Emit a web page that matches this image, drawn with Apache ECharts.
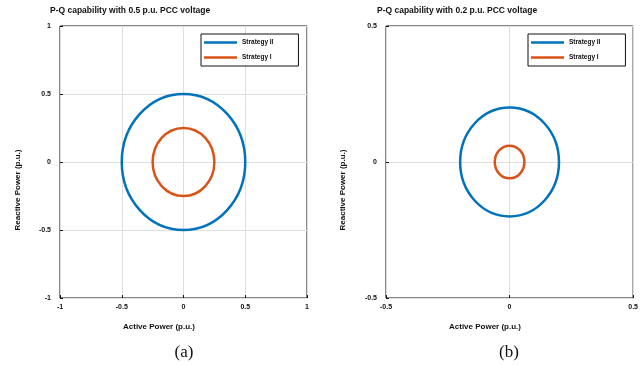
<!DOCTYPE html>
<html>
<head>
<meta charset="utf-8">
<script src="https://cdn.jsdelivr.net/npm/echarts@6/dist/echarts.min.js"></script>
<style>html,body{margin:0;padding:0;background:#fff}#c{width:641px;height:365px}</style>
</head>
<body>
<div id="c"></div>
<script>
// ---- data ----
const panelTitles = ['P-Q capability with 0.5 p.u. PCC voltage', 'P-Q capability with 0.2 p.u. PCC voltage'];
const panelCaptions = ['(a)', '(b)'];
const seriesNames = ['Strategy II', 'Strategy I'];
const seriesColors = ['#0072BD', '#D95319'];
const xAxisName = 'Active Power (p.u.)';
const yAxisName = 'Reactive Power (p.u.)';
// capability circles: [centre P, centre Q, radius] for Strategy II, Strategy I
const circlesA = [[0, 0, 0.5], [0, 0, 0.25]];
const circlesB = [[0, 0, 0.2], [0, 0, 0.06]];
const axisRangeA = [-1, 1, 0.5];
const axisRangeB = [-0.5, 0.5, 0.5];

const chart = echarts.init(document.getElementById('c'), null, {renderer: 'canvas'});

const grids = [
  {left: 60, top: 26, width: 247, height: 272},
  {left: 386, top: 26, width: 248, height: 272}
];
const ranges = [axisRangeA, axisRangeB];
const tickFont = {fontSize: 7, fontWeight: 'bold', color: '#111', fontFamily: 'Liberation Sans, Arial, sans-serif'};

function makeX(i) {
  const r = ranges[i];
  return {type: 'value', gridIndex: i, min: r[0], max: r[1], interval: r[2],
    axisLine: {show: false, onZero: false}, axisTick: {show: true, inside: true, length: 3, lineStyle: {color: '#111'}},
    splitLine: {show: true, lineStyle: {color: '#dedede', width: 1}},
    axisLabel: Object.assign({margin: 6}, tickFont)};
}
function makeY(i) {
  const r = ranges[i];
  return {type: 'value', gridIndex: i, min: r[0], max: r[1], interval: r[2],
    axisLine: {show: false, onZero: false}, axisTick: {show: true, inside: true, length: 3, lineStyle: {color: '#111'}},
    splitLine: {show: true, lineStyle: {color: '#dedede', width: 1}},
    axisLabel: Object.assign({margin: 9, padding: [0, 0, 7, 0]}, tickFont)};
}

function circleSeries(name, color, circle, gi) {
  return {
    type: 'custom', name: name, xAxisIndex: gi, yAxisIndex: gi,
    itemStyle: {color: color},
    data: [circle],
    renderItem: function (params, api) {
      const c = api.coord([api.value(0), api.value(1)]);
      const s = api.size([api.value(2), api.value(2)]);
      return {type: 'ellipse', shape: {cx: c[0], cy: c[1], rx: s[0], ry: s[1]},
        style: {fill: null, stroke: color, lineWidth: 2.5}};
    }
  };
}

const series = [];
[circlesA, circlesB].forEach(function (cs, gi) {
  cs.forEach(function (c, k) { series.push(circleSeries(seriesNames[k], seriesColors[k], c, gi)); });
});

function makeLegend(left) {
  return {left: left, top: 34, orient: 'vertical', padding: [5, 25, 5, 3], itemGap: 8,
    itemWidth: 33, itemHeight: 2.5, icon: 'rect', borderColor: '#111', borderWidth: 1,
    backgroundColor: '#fff', selectedMode: false,
    textStyle: {fontSize: 6.5, fontWeight: 'bold', color: '#111', fontFamily: 'Liberation Sans, Arial, sans-serif', padding: [0, 0, 0, 0]},
    data: seriesNames.map(function (n, k) { return {name: n, itemStyle: {color: seriesColors[k]}}; })};
}

const labFont = 'bold 8px "Liberation Sans", Arial, sans-serif';
const capFont = '17px "Liberation Serif", "Times New Roman", serif';
function txt(x, y, text, font, rot) {
  return {type: 'text', x: x, y: y, rotation: rot || 0, silent: true,
    style: {text: text, font: font, fill: '#111', align: 'center', verticalAlign: 'middle'}};
}

const titleStyle = {fontSize: 8.5, fontWeight: 'bold', color: '#111', fontFamily: 'Liberation Sans, Arial, sans-serif'};
chart.setOption({
  animation: false,
  backgroundColor: '#fff',
  title: [
    {text: panelTitles[0], left: 50, top: 6, padding: 0, textStyle: titleStyle},
    {text: panelTitles[1], left: 377, top: 6, padding: 0, textStyle: titleStyle}
  ],
  grid: grids.map(function (g) { return Object.assign({show: true, borderColor: '#111', borderWidth: 1, backgroundColor: '#fff'}, g); }),
  xAxis: [makeX(0), makeX(1)],
  yAxis: [makeY(0), makeY(1)],
  legend: [makeLegend(201), makeLegend(528)],
  series: series,
  graphic: [
    txt(159, 327, xAxisName, labFont),
    txt(18, 190, yAxisName, labFont, Math.PI / 2),
    txt(485, 327, xAxisName, labFont),
    txt(343, 190, yAxisName, labFont, Math.PI / 2),
    txt(184, 353, panelCaptions[0], capFont),
    txt(509, 353, panelCaptions[1], capFont)
  ]
});
</script>
</body>
</html>
